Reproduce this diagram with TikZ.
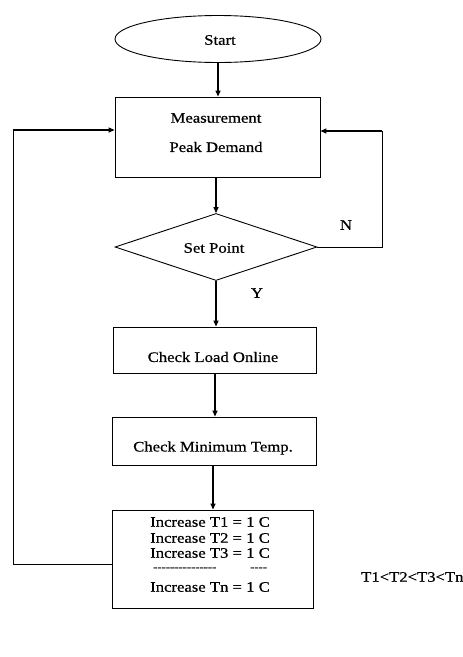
\documentclass[tikz,border=0pt]{standalone}
\usepackage{fontspec}
\setmainfont[FakeStretch=1.15,FakeBold=0.6]{Liberation Serif}
\usetikzlibrary{shapes.geometric,arrows.meta}
\begin{document}
\begin{tikzpicture}[x=1pt,y=-1pt,
  box/.style={draw,line width=0.9pt,rectangle,inner sep=0pt},
  arr/.style={line width=1.3pt,-{Triangle[length=6pt,width=5pt]}},
  lin/.style={line width=1pt},
  lbl/.style={font=\fontsize{14.5}{16}\selectfont,inner sep=0pt},
  dsh/.style={font=\fontsize{11}{12}\selectfont,inner sep=0pt}]
\useasboundingbox (0,0) rectangle (463,657);
% nodes
\node[draw,ellipse,line width=0.9pt,minimum width=206pt,minimum height=47pt,inner sep=0pt] (start) at (218,39) {};
\node[lbl] (tstart) at (220,40) {Start};
\node[box,minimum width=205pt,minimum height=80pt] (meas) at (217.5,137) {};
\node[lbl] (tmeas1) at (216,118) {Measurement};
\node[lbl] (tmeas2) at (216,147) {Peak Demand};
\node[draw,diamond,line width=0.9pt,aspect=3.0,minimum width=202pt,minimum height=67pt,inner sep=0pt] (dec) at (216,247) {};
\node[lbl] (tdec) at (214,248) {Set Point};
\node[box,minimum width=203pt,minimum height=46pt] (load) at (214.5,350) {};
\node[lbl] (tload) at (213,357) {Check Load Online};
\node[box,minimum width=204pt,minimum height=48pt] (mint) at (214,441) {};
\node[lbl] (tmint) at (213,448) {Check Minimum Temp.};
\node[box,minimum width=201pt,minimum height=98pt] (inc) at (212.5,559) {};
\node[lbl,anchor=west] (i1) at (150,522) {Increase T1 = 1 C};
\node[lbl,anchor=west] (i2) at (150,538) {Increase T2 = 1 C};
\node[lbl,anchor=west] (i3) at (150,553) {Increase T3 = 1 C};
\node[dsh,anchor=west] (i4) at (153,569) {-{}-{}-{}-{}-{}-{}-{}-{}-{}-{}-{}-{}-{}-{}-};
\node[dsh,anchor=west] (i5) at (250,569) {-{}-{}-{}-};
\node[lbl,anchor=west] (i6) at (150,587) {Increase Tn = 1 C};
\node[lbl] (lN) at (346,225) {N};
\node[lbl] (lY) at (257,293) {Y};
\node[lbl,anchor=west] (tt) at (361,577) {T1<T2<T3<Tn};
% coordinates for loops
\coordinate (r1) at (382,247);
\coordinate (r2) at (382,131);
\coordinate (l1) at (13,564);
\coordinate (l2) at (13,130);
% connectors
\draw[arr] (start.south) -- (meas.north -| start.south);
\draw[arr] (meas.south -| dec.north) -- (dec.north);
\draw[arr] (dec.south) -- (load.north -| dec.south);
\draw[arr] (load.south -| 215,0) -- (mint.north -| 215,0);
\draw[arr] (mint.south -| 213,0) -- (inc.north -| 213,0);
\draw[lin] (dec.east) -- (r1) -- (r2);
\draw[arr] (r2) -- (meas.east |- r2);
\draw[lin] (inc.west |- l1) -- (l1) -- (l2);
\draw[arr] (l2) -- (meas.west |- l2);
\end{tikzpicture}
\end{document}
